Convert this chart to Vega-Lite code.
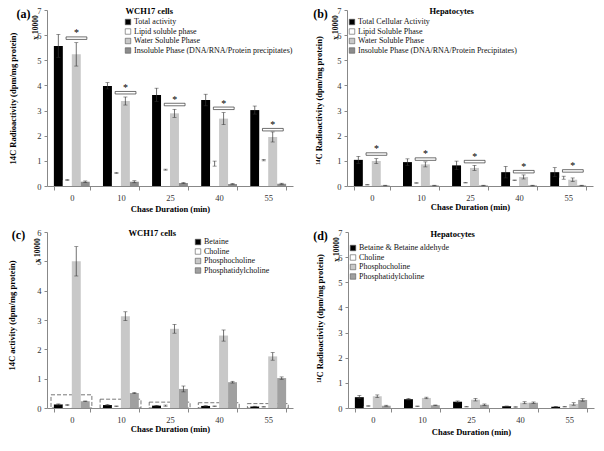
{
  "$schema": "https://vega.github.io/schema/vega-lite/v6.json",
  "padding": {"left": 7, "top": 6, "right": 4, "bottom": 4},
  "background": "white",
  "config": {
    "font": "Liberation Serif",
    "view": {"stroke": null},
    "axis": {"labelFont": "Liberation Serif", "titleFont": "Liberation Serif", "labelFontSize": 8.5, "titleFontSize": 8.5, "titleFontWeight": "bold", "labelColor": "#333", "titleColor": "#000", "domainColor": "#888", "tickColor": "#888", "grid": false},
    "axisX": {"labelAngle": 0, "tickBand": "extent", "tickSize": 4, "labelPadding": 3},
    "axisY": {"tickSize": 3, "labelPadding": 3},
    "legend": {"orient": "none", "title": null, "symbolType": "square", "symbolSize": 30, "labelFont": "Liberation Serif", "labelFontSize": 8, "labelColor": "#111", "rowPadding": 1.5, "symbolStrokeColor": "#555", "symbolStrokeWidth": 0.6, "labelLimit": 400, "labelOffset": 2, "padding": 0}
  },
  "datasets": {
    "a": [
      {"t": "0", "s": "Total activity", "v": 5.57, "lo": 5.12, "hi": 6.03},
      {"t": "0", "s": "Lipid soluble phase", "v": 0.24, "lo": 0.22, "hi": 0.26},
      {"t": "0", "s": "Water Soluble Phase", "v": 5.24, "lo": 4.77, "hi": 5.7},
      {"t": "0", "s": "Insoluble Phase (DNA/RNA/Protein precipitates)", "v": 0.17, "lo": 0.14, "hi": 0.2},
      {"t": "10", "s": "Total activity", "v": 3.98, "lo": 3.86, "hi": 4.11},
      {"t": "10", "s": "Lipid soluble phase", "v": 0.52, "lo": 0.5, "hi": 0.54},
      {"t": "10", "s": "Water Soluble Phase", "v": 3.38, "lo": 3.22, "hi": 3.54},
      {"t": "10", "s": "Insoluble Phase (DNA/RNA/Protein precipitates)", "v": 0.17, "lo": 0.13, "hi": 0.21},
      {"t": "25", "s": "Total activity", "v": 3.62, "lo": 3.36, "hi": 3.89},
      {"t": "25", "s": "Lipid soluble phase", "v": 0.65, "lo": 0.63, "hi": 0.67},
      {"t": "25", "s": "Water Soluble Phase", "v": 2.89, "lo": 2.73, "hi": 3.05},
      {"t": "25", "s": "Insoluble Phase (DNA/RNA/Protein precipitates)", "v": 0.12, "lo": 0.1, "hi": 0.14},
      {"t": "40", "s": "Total activity", "v": 3.42, "lo": 3.19, "hi": 3.65},
      {"t": "40", "s": "Lipid soluble phase", "v": 0.89, "lo": 0.79, "hi": 0.99},
      {"t": "40", "s": "Water Soluble Phase", "v": 2.68, "lo": 2.44, "hi": 2.92},
      {"t": "40", "s": "Insoluble Phase (DNA/RNA/Protein precipitates)", "v": 0.08, "lo": 0.07, "hi": 0.1},
      {"t": "55", "s": "Total activity", "v": 3.02, "lo": 2.86, "hi": 3.18},
      {"t": "55", "s": "Lipid soluble phase", "v": 1.03, "lo": 1.0, "hi": 1.06},
      {"t": "55", "s": "Water Soluble Phase", "v": 1.95, "lo": 1.75, "hi": 2.15},
      {"t": "55", "s": "Insoluble Phase (DNA/RNA/Protein precipitates)", "v": 0.09, "lo": 0.07, "hi": 0.11}
    ],
    "a_sig": [
      {"t": "0", "top": 5.93, "bot": 5.83, "star": 6.08},
      {"t": "10", "top": 3.76, "bot": 3.66, "star": 3.9},
      {"t": "25", "top": 3.29, "bot": 3.19, "star": 3.43},
      {"t": "40", "top": 3.14, "bot": 3.04, "star": 3.28},
      {"t": "55", "top": 2.29, "bot": 2.19, "star": 2.43}
    ],
    "b": [
      {"t": "0", "s": "Total Cellular Activity", "v": 1.04, "lo": 0.9, "hi": 1.18},
      {"t": "0", "s": "Lipid Soluble Phase", "v": 0.05, "lo": 0.04, "hi": 0.06},
      {"t": "0", "s": "Water Soluble Phase", "v": 0.99, "lo": 0.89, "hi": 1.09},
      {"t": "0", "s": "Insoluble Phase (DNA/RNA/Protein Precipitates)", "v": 0.02, "lo": 0.01, "hi": 0.03},
      {"t": "10", "s": "Total Cellular Activity", "v": 0.95, "lo": 0.82, "hi": 1.08},
      {"t": "10", "s": "Lipid Soluble Phase", "v": 0.12, "lo": 0.11, "hi": 0.13},
      {"t": "10", "s": "Water Soluble Phase", "v": 0.86, "lo": 0.76, "hi": 0.96},
      {"t": "10", "s": "Insoluble Phase (DNA/RNA/Protein Precipitates)", "v": 0.02, "lo": 0.01, "hi": 0.03},
      {"t": "25", "s": "Total Cellular Activity", "v": 0.82, "lo": 0.65, "hi": 0.99},
      {"t": "25", "s": "Lipid Soluble Phase", "v": 0.13, "lo": 0.12, "hi": 0.14},
      {"t": "25", "s": "Water Soluble Phase", "v": 0.72, "lo": 0.62, "hi": 0.82},
      {"t": "25", "s": "Insoluble Phase (DNA/RNA/Protein Precipitates)", "v": 0.02, "lo": 0.01, "hi": 0.03},
      {"t": "40", "s": "Total Cellular Activity", "v": 0.55, "lo": 0.32, "hi": 0.78},
      {"t": "40", "s": "Lipid Soluble Phase", "v": 0.23, "lo": 0.22, "hi": 0.24},
      {"t": "40", "s": "Water Soluble Phase", "v": 0.36, "lo": 0.28, "hi": 0.44},
      {"t": "40", "s": "Insoluble Phase (DNA/RNA/Protein Precipitates)", "v": 0.02, "lo": 0.01, "hi": 0.03},
      {"t": "55", "s": "Total Cellular Activity", "v": 0.55, "lo": 0.37, "hi": 0.73},
      {"t": "55", "s": "Lipid Soluble Phase", "v": 0.33, "lo": 0.27, "hi": 0.39},
      {"t": "55", "s": "Water Soluble Phase", "v": 0.25, "lo": 0.18, "hi": 0.32},
      {"t": "55", "s": "Insoluble Phase (DNA/RNA/Protein Precipitates)", "v": 0.02, "lo": 0.01, "hi": 0.03}
    ],
    "b_sig": [
      {"t": "0", "top": 1.32, "bot": 1.22, "star": 1.47},
      {"t": "10", "top": 1.12, "bot": 1.02, "star": 1.28},
      {"t": "25", "top": 1.02, "bot": 0.92, "star": 1.16},
      {"t": "40", "top": 0.62, "bot": 0.52, "star": 0.77},
      {"t": "55", "top": 0.65, "bot": 0.55, "star": 0.8}
    ],
    "c": [
      {"t": "0", "s": "Betaine", "v": 0.12, "lo": 0.1, "hi": 0.14},
      {"t": "0", "s": "Choline", "v": 0.1, "lo": 0.08, "hi": 0.12},
      {"t": "0", "s": "Phosphocholine", "v": 5.0, "lo": 4.5, "hi": 5.5},
      {"t": "0", "s": "Phosphatidylcholine", "v": 0.23, "lo": 0.22, "hi": 0.24},
      {"t": "10", "s": "Betaine", "v": 0.1, "lo": 0.08, "hi": 0.12},
      {"t": "10", "s": "Choline", "v": 0.06, "lo": 0.05, "hi": 0.07},
      {"t": "10", "s": "Phosphocholine", "v": 3.13, "lo": 2.98, "hi": 3.28},
      {"t": "10", "s": "Phosphatidylcholine", "v": 0.51, "lo": 0.49, "hi": 0.53},
      {"t": "25", "s": "Betaine", "v": 0.08, "lo": 0.07, "hi": 0.09},
      {"t": "25", "s": "Choline", "v": 0.08, "lo": 0.06, "hi": 0.1},
      {"t": "25", "s": "Phosphocholine", "v": 2.7, "lo": 2.55, "hi": 2.85},
      {"t": "25", "s": "Phosphatidylcholine", "v": 0.65, "lo": 0.55, "hi": 0.75},
      {"t": "40", "s": "Betaine", "v": 0.07, "lo": 0.06, "hi": 0.08},
      {"t": "40", "s": "Choline", "v": 0.06, "lo": 0.05, "hi": 0.07},
      {"t": "40", "s": "Phosphocholine", "v": 2.47, "lo": 2.28, "hi": 2.66},
      {"t": "40", "s": "Phosphatidylcholine", "v": 0.88, "lo": 0.85, "hi": 0.91},
      {"t": "55", "s": "Betaine", "v": 0.05, "lo": 0.04, "hi": 0.06},
      {"t": "55", "s": "Choline", "v": 0.04, "lo": 0.03, "hi": 0.05},
      {"t": "55", "s": "Phosphocholine", "v": 1.76, "lo": 1.63, "hi": 1.89},
      {"t": "55", "s": "Phosphatidylcholine", "v": 1.02, "lo": 0.98, "hi": 1.06}
    ],
    "c_box": [
      {"t": "0", "h": 0.45},
      {"t": "10", "h": 0.3},
      {"t": "25", "h": 0.2},
      {"t": "40", "h": 0.18},
      {"t": "55", "h": 0.15}
    ],
    "d": [
      {"t": "0", "s": "Betaine & Betaine aldehyde", "v": 0.43, "lo": 0.38, "hi": 0.5},
      {"t": "0", "s": "Choline", "v": 0.08, "lo": 0.07, "hi": 0.09},
      {"t": "0", "s": "Phosphocholine", "v": 0.47, "lo": 0.42, "hi": 0.52},
      {"t": "0", "s": "Phosphatidylcholine", "v": 0.09, "lo": 0.07, "hi": 0.11},
      {"t": "10", "s": "Betaine & Betaine aldehyde", "v": 0.35, "lo": 0.32, "hi": 0.38},
      {"t": "10", "s": "Choline", "v": 0.07, "lo": 0.06, "hi": 0.08},
      {"t": "10", "s": "Phosphocholine", "v": 0.4, "lo": 0.37, "hi": 0.43},
      {"t": "10", "s": "Phosphatidylcholine", "v": 0.11, "lo": 0.1, "hi": 0.12},
      {"t": "25", "s": "Betaine & Betaine aldehyde", "v": 0.25, "lo": 0.22, "hi": 0.28},
      {"t": "25", "s": "Choline", "v": 0.05, "lo": 0.04, "hi": 0.06},
      {"t": "25", "s": "Phosphocholine", "v": 0.33, "lo": 0.28, "hi": 0.38},
      {"t": "25", "s": "Phosphatidylcholine", "v": 0.13, "lo": 0.1, "hi": 0.16},
      {"t": "40", "s": "Betaine & Betaine aldehyde", "v": 0.07, "lo": 0.06, "hi": 0.08},
      {"t": "40", "s": "Choline", "v": 0.04, "lo": 0.03, "hi": 0.05},
      {"t": "40", "s": "Phosphocholine", "v": 0.21, "lo": 0.17, "hi": 0.25},
      {"t": "40", "s": "Phosphatidylcholine", "v": 0.21, "lo": 0.18, "hi": 0.24},
      {"t": "55", "s": "Betaine & Betaine aldehyde", "v": 0.05, "lo": 0.04, "hi": 0.06},
      {"t": "55", "s": "Choline", "v": 0.05, "lo": 0.04, "hi": 0.06},
      {"t": "55", "s": "Phosphocholine", "v": 0.16, "lo": 0.11, "hi": 0.21},
      {"t": "55", "s": "Phosphatidylcholine", "v": 0.32, "lo": 0.27, "hi": 0.37}
    ]
  },
  "spacing": 15,
  "resolve": {"scale": {"fill": "independent", "xOffset": "independent", "x": "independent", "y": "independent"}, "legend": {"fill": "independent"}},
  "vconcat": [
    {
      "spacing": 19,
      "resolve": {"scale": {"fill": "independent", "xOffset": "independent", "x": "independent", "y": "independent"}, "legend": {"fill": "independent"}},
      "hconcat": [
        {
          "width": 246, "height": 176,
          "resolve": {"axis": {"x": "independent", "y": "independent"}},
          "layer": [
            {
              "data": {"name": "a"},
              "mark": {"type": "bar"},
              "encoding": {
                "x": {"field": "t", "type": "nominal", "scale": {"domain": ["0", "10", "25", "40", "55"], "paddingInner": 0.27, "paddingOuter": 0.14}, "axis": {"title": "Chase Duration (min)", "titleX": 123, "titleY": 22, "titleAlign": "center", "titleBaseline": "middle"}},
                "xOffset": {"field": "s", "type": "nominal", "scale": {"domain": ["Total activity", "Lipid soluble phase", "Water Soluble Phase", "Insoluble Phase (DNA/RNA/Protein precipitates)"], "paddingInner": 0, "paddingOuter": 0}},
                "y": {"field": "v", "type": "quantitative", "scale": {"domain": [0, 7]}, "axis": {"title": "14C Radioactivity (dpm/mg protein)", "values": [0, 1, 2, 3, 4, 5, 6, 7], "titleX": -35, "titleY": 88, "titleAngle": 270, "titleAlign": "center", "titleBaseline": "middle"}},
                "fill": {"field": "s", "type": "nominal", "scale": {"domain": ["Total activity", "Lipid soluble phase", "Water Soluble Phase", "Insoluble Phase (DNA/RNA/Protein precipitates)"], "range": ["#000000", "#ffffff", "#c8c8c8", "#8c8c8c"]}, "legend": {"legendX": 77, "legendY": 8}}
              }
            },
            {
              "data": {"name": "a"},
              "mark": {"type": "rule", "color": "#333", "strokeWidth": 0.7},
              "encoding": {
                "x": {"field": "t", "type": "nominal", "axis": {"orient": "top", "title": "WCH17 cells", "labels": false, "ticks": false, "domain": false, "titleX": 78, "titleY": 0, "titleAlign": "left", "titleBaseline": "middle"}},
                "xOffset": {"field": "s", "type": "nominal"},
                "y": {"field": "lo", "type": "quantitative", "axis": {"orient": "left", "title": "x 10000", "labels": false, "ticks": false, "domain": false, "titleX": -12, "titleY": 17, "titleAngle": 270, "titleAlign": "center", "titleBaseline": "middle", "titleFontSize": 7.5}},
                "y2": {"field": "hi"}
              }
            },
            {
              "data": {"name": "a"},
              "mark": {"type": "tick", "color": "#333", "size": 4, "thickness": 0.7},
              "encoding": {
                "x": {"field": "t", "type": "nominal", "axis": {"orient": "top", "title": "(a)", "labels": false, "ticks": false, "domain": false, "titleX": -24, "titleY": 3, "titleAlign": "center", "titleBaseline": "middle", "titleFontSize": 12}},
                "xOffset": {"field": "s", "type": "nominal"},
                "y": {"field": "hi", "type": "quantitative", "axis": null}
              }
            },
            {
              "data": {"name": "a"},
              "mark": {"type": "tick", "color": "#333", "size": 4, "thickness": 0.7},
              "encoding": {
                "x": {"field": "t", "type": "nominal", "axis": null},
                "xOffset": {"field": "s", "type": "nominal"},
                "y": {"field": "lo", "type": "quantitative", "axis": null}
              }
            },
            {
              "data": {"name": "a_sig"},
              "mark": {"type": "rect", "fill": null, "stroke": "#333", "strokeWidth": 0.7},
              "encoding": {
                "x": {"field": "t", "type": "nominal", "bandPosition": 0.34, "axis": null},
                "x2": {"field": "t", "bandPosition": 0.92},
                "y": {"field": "top", "type": "quantitative", "axis": null},
                "y2": {"field": "bot"}
              }
            },
            {
              "data": {"name": "a_sig"},
              "mark": {"type": "text", "text": "*", "fontSize": 10, "baseline": "middle", "font": "Liberation Serif"},
              "encoding": {
                "x": {"field": "t", "type": "nominal", "bandPosition": 0.63, "axis": null},
                "y": {"field": "star", "type": "quantitative", "axis": null}
              }
            }
          ]
        },
        {
          "width": 246, "height": 176,
          "resolve": {"axis": {"x": "independent", "y": "independent"}},
          "layer": [
            {
              "data": {"name": "b"},
              "mark": {"type": "bar"},
              "encoding": {
                "x": {"field": "t", "type": "nominal", "scale": {"domain": ["0", "10", "25", "40", "55"], "paddingInner": 0.27, "paddingOuter": 0.14}, "axis": {"title": "Chase Duration (min)", "titleX": 123, "titleY": 20, "titleAlign": "center", "titleBaseline": "middle"}},
                "xOffset": {"field": "s", "type": "nominal", "scale": {"domain": ["Total Cellular Activity", "Lipid Soluble Phase", "Water Soluble Phase", "Insoluble Phase (DNA/RNA/Protein Precipitates)"], "paddingInner": 0, "paddingOuter": 0}},
                "y": {"field": "v", "type": "quantitative", "scale": {"domain": [0, 7]}, "axis": {"title": "¹⁴C Radioactivity (dpm/mg protein)", "values": [0, 1, 2, 3, 4, 5, 6, 7], "titleX": -29, "titleY": 90, "titleAngle": 270, "titleAlign": "center", "titleBaseline": "middle"}},
                "fill": {"field": "s", "type": "nominal", "scale": {"domain": ["Total Cellular Activity", "Lipid Soluble Phase", "Water Soluble Phase", "Insoluble Phase (DNA/RNA/Protein Precipitates)"], "range": ["#000000", "#ffffff", "#c8c8c8", "#8c8c8c"]}, "legend": {"legendX": 1, "legendY": 8}}
              }
            },
            {
              "data": {"name": "b"},
              "mark": {"type": "rule", "color": "#333", "strokeWidth": 0.7},
              "encoding": {
                "x": {"field": "t", "type": "nominal", "axis": {"orient": "top", "title": "Hepatocytes", "labels": false, "ticks": false, "domain": false, "titleX": 82, "titleY": 0, "titleAlign": "left", "titleBaseline": "middle"}},
                "xOffset": {"field": "s", "type": "nominal"},
                "y": {"field": "lo", "type": "quantitative", "axis": {"orient": "left", "title": "x 10000", "labels": false, "ticks": false, "domain": false, "titleX": -12, "titleY": 17, "titleAngle": 270, "titleAlign": "center", "titleBaseline": "middle", "titleFontSize": 7.5}},
                "y2": {"field": "hi"}
              }
            },
            {
              "data": {"name": "b"},
              "mark": {"type": "tick", "color": "#333", "size": 4, "thickness": 0.7},
              "encoding": {
                "x": {"field": "t", "type": "nominal", "axis": {"orient": "top", "title": "(b)", "labels": false, "ticks": false, "domain": false, "titleX": -27, "titleY": 3, "titleAlign": "center", "titleBaseline": "middle", "titleFontSize": 12}},
                "xOffset": {"field": "s", "type": "nominal"},
                "y": {"field": "hi", "type": "quantitative", "axis": null}
              }
            },
            {
              "data": {"name": "b"},
              "mark": {"type": "tick", "color": "#333", "size": 4, "thickness": 0.7},
              "encoding": {
                "x": {"field": "t", "type": "nominal", "axis": null},
                "xOffset": {"field": "s", "type": "nominal"},
                "y": {"field": "lo", "type": "quantitative", "axis": null}
              }
            },
            {
              "data": {"name": "b_sig"},
              "mark": {"type": "rect", "fill": null, "stroke": "#333", "strokeWidth": 0.7},
              "encoding": {
                "x": {"field": "t", "type": "nominal", "bandPosition": 0.34, "axis": null},
                "x2": {"field": "t", "bandPosition": 0.92},
                "y": {"field": "top", "type": "quantitative", "axis": null},
                "y2": {"field": "bot"}
              }
            },
            {
              "data": {"name": "b_sig"},
              "mark": {"type": "text", "text": "*", "fontSize": 10, "baseline": "middle", "font": "Liberation Serif"},
              "encoding": {
                "x": {"field": "t", "type": "nominal", "bandPosition": 0.63, "axis": null},
                "y": {"field": "star", "type": "quantitative", "axis": null}
              }
            }
          ]
        }
      ]
    },
    {
      "spacing": 19,
      "resolve": {"scale": {"fill": "independent", "xOffset": "independent", "x": "independent", "y": "independent"}, "legend": {"fill": "independent"}},
      "hconcat": [
        {
          "width": 246, "height": 176,
          "resolve": {"axis": {"x": "independent", "y": "independent"}},
          "layer": [
            {
              "data": {"name": "c_box"},
              "mark": {"type": "rect", "fill": null, "stroke": "#555", "strokeWidth": 0.8, "strokeDash": [4, 2]},
              "encoding": {
                "x": {"field": "t", "type": "nominal", "bandPosition": -0.08, "scale": {"domain": ["0", "10", "25", "40", "55"], "paddingInner": 0.27, "paddingOuter": 0.14}, "axis": {"title": "Chase Duration (min)", "titleX": 123, "titleY": 20, "titleAlign": "center", "titleBaseline": "middle"}},
                "x2": {"field": "t", "bandPosition": 1.06},
                "y": {"field": "h", "type": "quantitative", "scale": {"domain": [0, 6]}, "axis": {"title": "14C activity (dpm/mg protein)", "values": [0, 1, 2, 3, 4, 5, 6], "titleX": -36, "titleY": 83, "titleAngle": 270, "titleAlign": "center", "titleBaseline": "middle"}},
                "y2": {"datum": 0}
              }
            },
            {
              "data": {"name": "c"},
              "mark": {"type": "bar"},
              "encoding": {
                "x": {"field": "t", "type": "nominal", "axis": null},
                "xOffset": {"field": "s", "type": "nominal", "scale": {"domain": ["Betaine", "Choline", "Phosphocholine", "Phosphatidylcholine"], "paddingInner": 0, "paddingOuter": 0}},
                "y": {"field": "v", "type": "quantitative", "axis": null},
                "fill": {"field": "s", "type": "nominal", "scale": {"domain": ["Betaine", "Choline", "Phosphocholine", "Phosphatidylcholine"], "range": ["#000000", "#ffffff", "#c8c8c8", "#a0a0a0"]}, "legend": {"legendX": 147, "legendY": 6}}
              }
            },
            {
              "data": {"name": "c"},
              "mark": {"type": "rule", "color": "#333", "strokeWidth": 0.7},
              "encoding": {
                "x": {"field": "t", "type": "nominal", "axis": {"orient": "top", "title": "WCH17 cells", "labels": false, "ticks": false, "domain": false, "titleX": 81, "titleY": 0, "titleAlign": "left", "titleBaseline": "middle"}},
                "xOffset": {"field": "s", "type": "nominal"},
                "y": {"field": "lo", "type": "quantitative", "axis": {"orient": "left", "title": "x 10000", "labels": false, "ticks": false, "domain": false, "titleX": -10, "titleY": 18, "titleAngle": 270, "titleAlign": "center", "titleBaseline": "middle", "titleFontSize": 7.5}},
                "y2": {"field": "hi"}
              }
            },
            {
              "data": {"name": "c"},
              "mark": {"type": "tick", "color": "#333", "size": 4, "thickness": 0.7},
              "encoding": {
                "x": {"field": "t", "type": "nominal", "axis": {"orient": "top", "title": "(c)", "labels": false, "ticks": false, "domain": false, "titleX": -29, "titleY": 2, "titleAlign": "center", "titleBaseline": "middle", "titleFontSize": 12}},
                "xOffset": {"field": "s", "type": "nominal"},
                "y": {"field": "hi", "type": "quantitative", "axis": null}
              }
            },
            {
              "data": {"name": "c"},
              "mark": {"type": "tick", "color": "#333", "size": 4, "thickness": 0.7},
              "encoding": {
                "x": {"field": "t", "type": "nominal", "axis": null},
                "xOffset": {"field": "s", "type": "nominal"},
                "y": {"field": "lo", "type": "quantitative", "axis": null}
              }
            }
          ]
        },
        {
          "width": 246, "height": 176,
          "resolve": {"axis": {"x": "independent", "y": "independent"}},
          "layer": [
            {
              "data": {"name": "d"},
              "mark": {"type": "bar"},
              "encoding": {
                "x": {"field": "t", "type": "nominal", "scale": {"domain": ["0", "10", "25", "40", "55"], "paddingInner": 0.27, "paddingOuter": 0.14}, "axis": {"title": "Chase Duration (min)", "titleX": 123, "titleY": 23, "titleAlign": "center", "titleBaseline": "middle"}},
                "xOffset": {"field": "s", "type": "nominal", "scale": {"domain": ["Betaine & Betaine aldehyde", "Choline", "Phosphocholine", "Phosphatidylcholine"], "paddingInner": 0, "paddingOuter": 0}},
                "y": {"field": "v", "type": "quantitative", "scale": {"domain": [0, 7]}, "axis": {"title": "¹⁴C Radioactivity (dpm/mg protein)", "values": [0, 1, 2, 3, 4, 5, 6, 7], "titleX": -29, "titleY": 86, "titleAngle": 270, "titleAlign": "center", "titleBaseline": "middle"}},
                "fill": {"field": "s", "type": "nominal", "scale": {"domain": ["Betaine & Betaine aldehyde", "Choline", "Phosphocholine", "Phosphatidylcholine"], "range": ["#000000", "#ffffff", "#c8c8c8", "#a0a0a0"]}, "legend": {"legendX": 1, "legendY": 12}}
              }
            },
            {
              "data": {"name": "d"},
              "mark": {"type": "rule", "color": "#333", "strokeWidth": 0.7},
              "encoding": {
                "x": {"field": "t", "type": "nominal", "axis": {"orient": "top", "title": "Hepatocytes", "labels": false, "ticks": false, "domain": false, "titleX": 82, "titleY": 1, "titleAlign": "left", "titleBaseline": "middle"}},
                "xOffset": {"field": "s", "type": "nominal"},
                "y": {"field": "lo", "type": "quantitative", "axis": {"orient": "left", "title": "x 10000", "labels": false, "ticks": false, "domain": false, "titleX": -12, "titleY": 17, "titleAngle": 270, "titleAlign": "center", "titleBaseline": "middle", "titleFontSize": 7.5}},
                "y2": {"field": "hi"}
              }
            },
            {
              "data": {"name": "d"},
              "mark": {"type": "tick", "color": "#333", "size": 4, "thickness": 0.7},
              "encoding": {
                "x": {"field": "t", "type": "nominal", "axis": {"orient": "top", "title": "(d)", "labels": false, "ticks": false, "domain": false, "titleX": -28, "titleY": 3, "titleAlign": "center", "titleBaseline": "middle", "titleFontSize": 12}},
                "xOffset": {"field": "s", "type": "nominal"},
                "y": {"field": "hi", "type": "quantitative", "axis": null}
              }
            },
            {
              "data": {"name": "d"},
              "mark": {"type": "tick", "color": "#333", "size": 4, "thickness": 0.7},
              "encoding": {
                "x": {"field": "t", "type": "nominal", "axis": null},
                "xOffset": {"field": "s", "type": "nominal"},
                "y": {"field": "lo", "type": "quantitative", "axis": null}
              }
            }
          ]
        }
      ]
    }
  ]
}
